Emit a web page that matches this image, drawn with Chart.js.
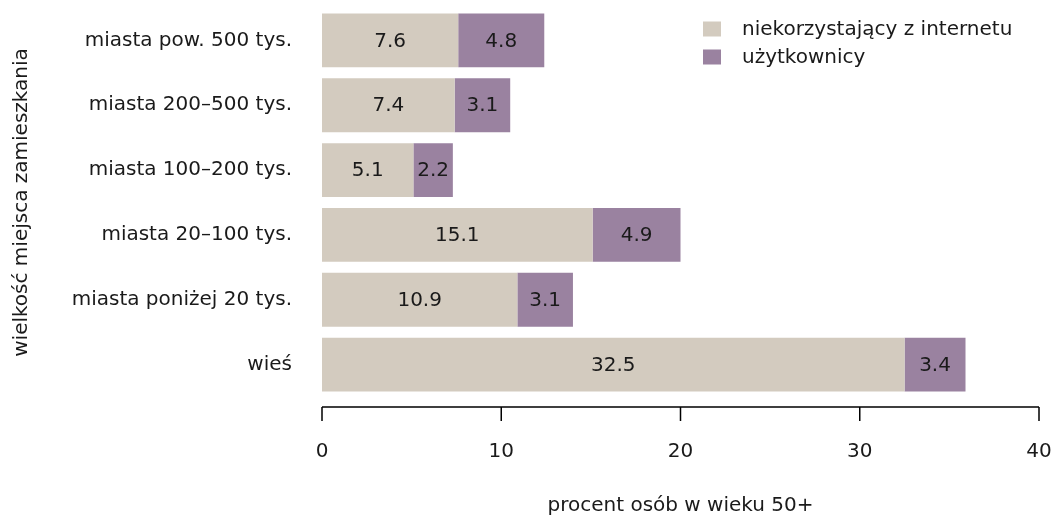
<!DOCTYPE html>
<html>
<head>
<meta charset="utf-8">
<script src="https://cdn.jsdelivr.net/npm/chart.js@4"></script>
<style>
  html, body { margin: 0; padding: 0; background: #fff; }
  #wrap { width: 1051px; height: 518px; }
</style>
</head>
<body>
<div id="wrap"><canvas id="chart"></canvas></div>
<script>
const categories = ['miasta pow. 500 tys.', 'miasta 200–500 tys.', 'miasta 100–200 tys.', 'miasta 20–100 tys.', 'miasta poniżej 20 tys.', 'wieś'];
const nonUsers = [7.6, 7.4, 5.1, 15.1, 10.9, 32.5];
const users = [4.8, 3.1, 2.2, 4.9, 3.1, 3.4];
const seriesNames = ['niekorzystający z internetu', 'użytkownicy'];
const xTicks = [0, 10, 20, 30, 40];

const FONT = 'DejaVu Sans';
const SIZE = 20;
const TEXT = '#1a1a1a';
const colors = ['#d3cbbf', '#9a82a0'];

// labels in the middle of each segment, plus the R style axis and legend
const extras = {
    id: 'extras',
    afterDatasetsDraw(chart) {
        const ctx = chart.ctx;
        ctx.save();
        ctx.font = SIZE + 'px "' + FONT + '"';
        ctx.fillStyle = TEXT;
        ctx.textAlign = 'center';
        ctx.textBaseline = 'middle';
        chart.data.datasets.forEach((ds, i) => {
            chart.getDatasetMeta(i).data.forEach((bar, j) => {
                const p = bar.getProps(['x', 'base', 'y']);
                ctx.fillText(ds.data[j].toFixed(1), (p.x + p.base) / 2, p.y + 1);
            });
        });

        // x axis line and ticks
        const xs = chart.scales.x;
        const y0 = chart.chartArea.bottom + 10;
        ctx.strokeStyle = '#000';
        ctx.lineWidth = 1.5;
        ctx.beginPath();
        ctx.moveTo(xs.getPixelForValue(xTicks[0]), y0);
        ctx.lineTo(xs.getPixelForValue(xTicks[xTicks.length - 1]), y0);
        xTicks.forEach(t => {
            const px = xs.getPixelForValue(t);
            ctx.moveTo(px, y0);
            ctx.lineTo(px, y0 + 14);
        });
        ctx.stroke();

        // legend
        ctx.textAlign = 'left';
        chart.data.datasets.forEach((ds, i) => {
            const ly = 29 + i * 28;
            ctx.fillStyle = ds.backgroundColor;
            ctx.fillRect(703, ly - 7.5, 18, 15);
            ctx.fillStyle = TEXT;
            ctx.fillText(ds.label, 742, ly + 1);
        });
        ctx.restore();
    }
};

new Chart(document.getElementById('chart'), {
    type: 'bar',
    data: {
        labels: categories,
        datasets: [
            { label: seriesNames[0], data: nonUsers, backgroundColor: colors[0] },
            { label: seriesNames[1], data: users, backgroundColor: colors[1] }
        ]
    },
    options: {
        indexAxis: 'y',
        responsive: true,
        maintainAspectRatio: false,
        animation: false,
        layout: { padding: { top: 8, right: 0, bottom: 0, left: 0 } },
        datasets: { bar: { categoryPercentage: 1, barPercentage: 0.83 } },
        plugins: { legend: { display: false }, tooltip: { enabled: false } },
        scales: {
            x: {
                stacked: true,
                min: 0,
                max: 40,
                afterBuildTicks(scale) { scale.ticks = xTicks.map(v => ({ value: v })); },
                afterFit(scale) {
                    scale.height = 121;
                    scale.paddingLeft = 0;
                    scale.paddingRight = 12;
                },
                grid: { display: false, drawTicks: true, tickLength: 40 },
                border: { display: false },
                ticks: { color: TEXT, font: { family: FONT, size: SIZE }, padding: 3, maxRotation: 0 },
                title: { display: true, text: 'procent osób w wieku 50+', color: TEXT, font: { family: FONT, size: SIZE }, padding: { top: 20, bottom: 0 } }
            },
            y: {
                stacked: true,
                afterFit(scale) {
                    scale.width = 322;
                    scale.paddingTop = 0;
                    scale.paddingBottom = 0;
                },
                grid: { display: false, drawTicks: false },
                border: { display: false },
                ticks: { color: TEXT, font: { family: FONT, size: SIZE }, padding: 30 },
                title: { display: true, text: 'wielkość miejsca zamieszkania', color: TEXT, font: { family: FONT, size: SIZE }, padding: { top: 10, bottom: 0 } }
            }
        }
    },
    plugins: [extras]
});
</script>
</body>
</html>
